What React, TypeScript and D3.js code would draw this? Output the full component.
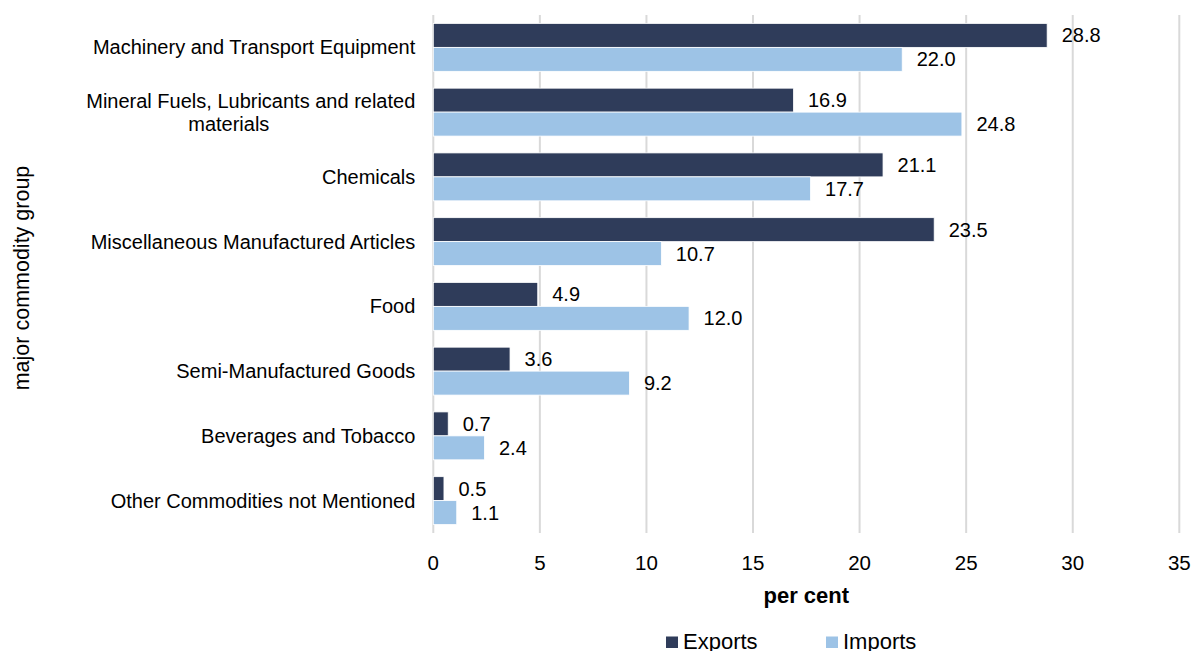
import * as d3 from 'd3';

const CATEGORIES: string[][] = [
  ['Machinery and Transport Equipment'],
  ['Mineral Fuels, Lubricants and related', 'materials'],
  ['Chemicals'],
  ['Miscellaneous Manufactured Articles'],
  ['Food'],
  ['Semi-Manufactured Goods'],
  ['Beverages and Tobacco'],
  ['Other Commodities not Mentioned'],
];
const EXPORTS = [28.8, 16.9, 21.1, 23.5, 4.9, 3.6, 0.7, 0.5];
const IMPORTS = [22.0, 24.8, 17.7, 10.7, 12.0, 9.2, 2.4, 1.1];
const X_TICKS = [0, 5, 10, 15, 20, 25, 30, 35];
const SERIES = ['Exports', 'Imports'];

const COLORS: Record<string, string> = {
  Exports: '#2f3c5a',
  Imports: '#9dc3e6',
};

const WIDTH = 1193;
const HEIGHT = 651;
const FONT = 'Liberation Sans, Arial, sans-serif';

export default function App() {
  const left = 433.3;
  const right = 1179.3;
  const top = 15;
  const bottom = 533;

  const x = d3.scaleLinear().domain([0, 35]).range([left, right]);
  const keys = CATEGORIES.map((_, i) => String(i));
  const y = d3.scaleBand().domain(keys).range([top, bottom]).paddingInner(0.26).paddingOuter(0.13);
  const inner = d3.scaleBand().domain(SERIES).range([0, y.bandwidth()]);

  const rows = keys.map((k, i) => ({
    key: k,
    label: CATEGORIES[i],
    values: [
      { series: 'Exports', value: EXPORTS[i] },
      { series: 'Imports', value: IMPORTS[i] },
    ],
  }));

  return (
    <svg
      width={WIDTH}
      height={HEIGHT}
      style={{ position: 'absolute', left: 0, top: 0, background: '#fff' }}
      fontFamily={FONT}
    >
      {X_TICKS.map((t) => (
        <line key={t} x1={x(t)} x2={x(t)} y1={top} y2={bottom} stroke="#d9d9d9" strokeWidth={2} />
      ))}

      {rows.map((r) => {
        const y0 = y(r.key)!;
        const cy = y0 + y.bandwidth() / 2;
        const lh = 23;
        const startY = cy - ((r.label.length - 1) * lh) / 2;
        return (
          <g key={r.key}>
            {r.values.map((d) => {
              const by = y0 + inner(d.series)!;
              return (
                <g key={d.series}>
                  <rect
                    x={x(0)}
                    y={by}
                    width={x(d.value) - x(0)}
                    height={inner.bandwidth()}
                    fill={COLORS[d.series]}
                    stroke="#ffffff"
                    strokeWidth={0.8}
                  />
                  <text
                    x={x(d.value) + 14.5}
                    y={by + inner.bandwidth() / 2}
                    dominantBaseline="central"
                    fontSize={20}
                    fill="#000"
                  >
                    {d.value.toFixed(1)}
                  </text>
                </g>
              );
            })}
            {r.label.map((line, li) =>
              li === 0 ? (
                <text
                  key={li}
                  x={left - 18}
                  y={startY}
                  textAnchor="end"
                  dominantBaseline="central"
                  fontSize={20}
                  fill="#000"
                >
                  {line}
                </text>
              ) : (
                // wrapped continuation line, centred under the block like Excel does
                <text
                  key={li}
                  x={left - 204.5}
                  y={startY + li * lh}
                  textAnchor="middle"
                  dominantBaseline="central"
                  fontSize={20}
                  fill="#000"
                >
                  {line}
                </text>
              )
            )}
          </g>
        );
      })}

      {X_TICKS.map((t) => (
        <text key={t} x={x(t)} y={562} textAnchor="middle" dominantBaseline="central" fontSize={20.5} fill="#000">
          {t}
        </text>
      ))}

      <text
        x={(left + right) / 2}
        y={595}
        textAnchor="middle"
        dominantBaseline="central"
        fontSize={22}
        fontWeight="bold"
        fill="#000"
      >
        per cent
      </text>

      <text
        transform={`translate(22, ${(top + bottom) / 2 + 4}) rotate(-90)`}
        textAnchor="middle"
        dominantBaseline="central"
        fontSize={21.5}
        fill="#000"
      >
        major commodity group
      </text>

      {SERIES.map((s, i) => {
        const lx = 666 + i * 160;
        return (
          <g key={s}>
            <rect x={lx} y={636.5} width={12} height={11.5} fill={COLORS[s]} />
            <text x={lx + 17} y={649} fontSize={22} fill="#000">
              {s}
            </text>
          </g>
        );
      })}
    </svg>
  );
}
